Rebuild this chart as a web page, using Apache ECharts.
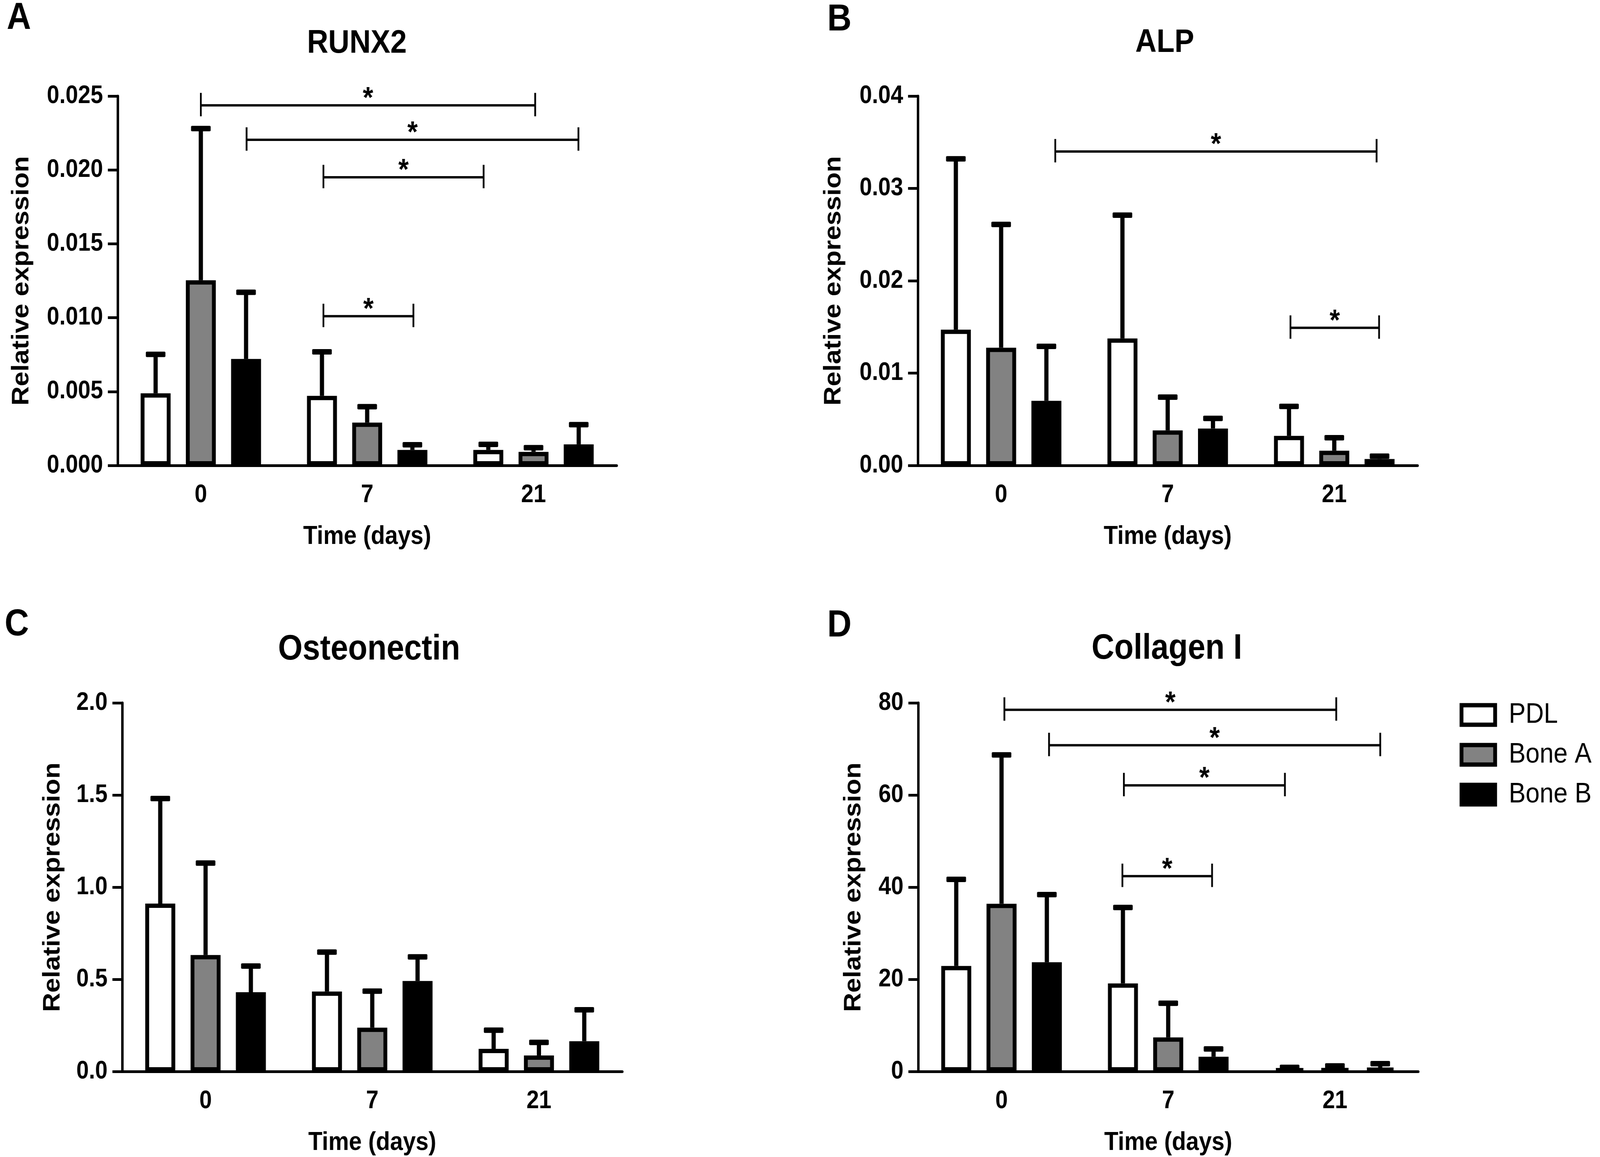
<!DOCTYPE html>
<html lang="en">
<head>
    <meta charset="UTF-8"/>
    <title>Relative expression</title>
    <script src="https://cdn.jsdelivr.net/npm/echarts@6.0.0/dist/echarts.min.js"></script>
    <style>
        html, body { margin: 0; padding: 0; background: #fff; overflow: hidden; }
        #main { transform-origin: 0 0; }
    </style>
</head>
<body>
<!-- drawn on a 4569x2963 layout, squeezed to whatever the window really is -->
<div id="main" style="width: 4569px;height: 2963px;"></div>
<script type="text/javascript">
    // categories
    var days = ['0', '7', '21'];
    var groups = ['PDL', 'Bone A', 'Bone B'];
    var fills = ['#ffffff', '#828282', '#000000'];

    // means and SD, one row per group (PDL, Bone A, Bone B), one value per day
    var runx2Mean = [[0.00488, 0.00471, 0.00105], [0.01253, 0.0029, 0.00092], [0.00721, 0.00105, 0.00143]];
    var runx2Sd   = [[0.00264, 0.00298, 0.00038], [0.01027, 0.00108, 0.00028], [0.00451, 0.00035, 0.00133]];
    var alpMean   = [[0.0147, 0.01375, 0.0032], [0.01275, 0.0038, 0.0016], [0.007, 0.004, 0.0007]];
    var alpSd     = [[0.0185, 0.01335, 0.0032], [0.01335, 0.0036, 0.0014], [0.0059, 0.0011, 0.0003]];
    var osteoMean = [[0.911, 0.434, 0.123], [0.632, 0.238, 0.087], [0.430, 0.491, 0.164]];
    var osteoSd   = [[0.570, 0.214, 0.101], [0.499, 0.198, 0.071], [0.142, 0.131, 0.171]];
    var colMean   = [[22.9, 19.1, 0.6], [36.4, 7.4, 0.65], [23.7, 3.2, 0.8]];
    var colSd     = [[18.8, 16.5, 0.3], [32.3, 7.4, 0.55], [14.7, 1.7, 0.9]];

    // significance brackets: [from, to, height] (from/to in category units, 0..3)
    var runx2Sig = [[0.50, 2.51, 0.02437], [0.775, 2.77, 0.02204], [1.237, 2.2, 0.0195], [1.237, 1.778, 0.0101]];
    var alpSig   = [[0.825, 2.754, 0.034], [2.237, 2.769, 0.0149]];
    var osteoSig = [];
    var colSig   = [[0.517, 2.508, 78.5], [0.785, 2.772, 70.8], [1.234, 2.2, 62.1], [1.225, 1.763, 42.4]];

    // y axis scales
    var yMax = [0.025, 0.04, 2.0, 80];
    var yStep = [0.005, 0.01, 0.5, 20];
    var yDecimals = [3, 2, 1, 0];

    var titles = ['RUNX2', 'ALP', 'Osteonectin', 'Collagen I'];
    var letters = ['A', 'B', 'C', 'D'];

    var panels = [
        {mean: runx2Mean, sd: runx2Sd, sig: runx2Sig, grid: {left: 336, top: 246, width: 1425, height: 946}, yGap: 240, title: [1019, 112], tSize: 84, letter: [54, 48]},
        {mean: alpMean, sd: alpSd, sig: alpSig, grid: {left: 2621, top: 246, width: 1427, height: 946}, yGap: 206, title: [3326, 110], tSize: 84, letter: [2397, 52]},
        {mean: osteoMean, sd: osteoSd, sig: osteoSig, grid: {left: 349, top: 1800, width: 1428, height: 944}, yGap: 164, title: [1054, 1664], tSize: 90, letter: [48, 1601]},
        {mean: colMean, sd: colSd, sig: colSig, grid: {left: 2622, top: 1800, width: 1428, height: 944}, yGap: 150, title: [3332, 1662], tSize: 90, letter: [2397, 1604]}
    ];

    var FONT = 'Liberation Sans';
    var BAR_W = 0.18;     // bar width as share of the category band
    var BAR_GAP = 0.51;   // gap between bars as share of bar width
    var step = BAR_W * (1 + BAR_GAP);

    // fit the fixed layout into the real window
    var box = document.getElementById('main');
    var sx = window.innerWidth / 4569, sy = window.innerHeight / 2963;
    if (Math.abs(sx - 1) > 0.001 || Math.abs(sy - 1) > 0.001) {
        box.style.transform = 'scale(' + sx + ',' + sy + ')';
    }

    var grids = [], xAxes = [], xValAxes = [], yAxes = [], series = [], graphics = [];

    panels.forEach(function (p, k) {
        grids.push(p.grid);
        xAxes.push({
            type: 'category', gridIndex: k, data: days,
            name: 'Time (days)', nameLocation: 'middle', nameGap: 150,
            nameTextStyle: {fontFamily: FONT, fontWeight: 'bold', fontSize: 66, color: '#000'},
            axisLine: {lineStyle: {color: '#000', width: 7}},
            axisTick: {alignWithLabel: true, length: 28, lineStyle: {color: '#000', width: 7}},
            axisLabel: {fontFamily: FONT, fontWeight: 'bold', fontSize: 64, color: '#000', margin: 44}
        });
        xValAxes.push({type: 'value', gridIndex: k, min: 0, max: 3, show: false});
        yAxes.push({
            type: 'value', gridIndex: k, min: 0, max: yMax[k], interval: yStep[k],
            name: 'Relative expression', nameLocation: 'middle', nameGap: p.yGap, nameRotate: 90,
            nameTextStyle: {fontFamily: FONT, fontWeight: 'bold', fontSize: 68, color: '#000'},
            splitLine: {show: false},
            axisLine: {show: true, lineStyle: {color: '#000', width: 7}},
            axisTick: {show: true, length: 28, lineStyle: {color: '#000', width: 7}},
            axisLabel: {
                fontFamily: FONT, fontWeight: 'bold', fontSize: 64, color: '#000', margin: 42,
                formatter: (function (d) { return function (v) { return v.toFixed(d); }; })(yDecimals[k])
            }
        });

        groups.forEach(function (g, s) {
            series.push({
                name: g, type: 'bar', xAxisIndex: k, yAxisIndex: k,
                data: p.mean[s],
                barWidth: (BAR_W * 100) + '%', barGap: (BAR_GAP * 100) + '%',
                itemStyle: {color: fills[s], borderColor: '#000', borderWidth: 11},
                emphasis: {disabled: true}, z: 2
            });
            // error bars (mean + SD)
            var eb = p.mean[s].map(function (m, i) {
                return [i + 0.5 + (s - 1) * step, m, p.sd[s][i]];
            });
            series.push({
                type: 'custom', xAxisIndex: 4 + k, yAxisIndex: k, data: eb,
                encode: {x: 0, y: 1}, z: 3, silent: true,
                renderItem: function (params, api) {
                    var x = api.value(0), m = api.value(1), sd = api.value(2);
                    var p0 = api.coord([x, m]), p1 = api.coord([x, m + sd]);
                    return {
                        type: 'group', children: [
                            {type: 'line', shape: {x1: p0[0], y1: p0[1], x2: p1[0], y2: p1[1]}, style: {stroke: '#000', lineWidth: 12}},
                            {type: 'rect', shape: {x: p1[0] - 28, y: p1[1] - 7, width: 56, height: 14, r: 3}, style: {fill: '#000'}}
                        ]
                    };
                }
            });
        });

        if (p.sig.length) {
            series.push({
                type: 'custom', xAxisIndex: 4 + k, yAxisIndex: k, data: p.sig,
                encode: {x: [0, 1], y: 2}, z: 4, silent: true,
                renderItem: function (params, api) {
                    var a = api.coord([api.value(0), api.value(2)]);
                    var b = api.coord([api.value(1), api.value(2)]);
                    return {
                        type: 'group', children: [
                            {type: 'line', shape: {x1: a[0], y1: a[1], x2: b[0], y2: b[1]}, style: {stroke: '#000', lineWidth: 6}},
                            {type: 'line', shape: {x1: a[0], y1: a[1] - 32, x2: a[0], y2: a[1] + 28}, style: {stroke: '#000', lineWidth: 5}},
                            {type: 'line', shape: {x1: b[0], y1: b[1] - 32, x2: b[0], y2: b[1] + 28}, style: {stroke: '#000', lineWidth: 5}},
                            {type: 'text', x: (a[0] + b[0]) / 2, y: a[1] - 16,
                             style: {text: '*', fontFamily: FONT, fontWeight: 'bold', fontSize: 76, fill: '#000', align: 'center', verticalAlign: 'middle'}}
                        ]
                    };
                }
            });
        }

        graphics.push({
            type: 'text', x: p.title[0], y: p.title[1],
            style: {text: titles[k], fontFamily: FONT, fontWeight: 'bold', fontSize: p.tSize, fill: '#000', align: 'center', verticalAlign: 'middle'}
        });
        graphics.push({
            type: 'text', x: p.letter[0], y: p.letter[1],
            style: {text: letters[k], fontFamily: FONT, fontWeight: 'bold', fontSize: 96, fill: '#000', align: 'center', verticalAlign: 'middle'}
        });
    });

    var myChart = echarts.init(box);
    myChart.setOption({
        backgroundColor: '#fff',
        animation: false,
        grid: grids,
        xAxis: xAxes.concat(xValAxes),
        yAxis: yAxes,
        legend: {
            orient: 'vertical', left: 4163, top: 1790,
            itemWidth: 96, itemHeight: 50, itemGap: 30,
            icon: 'rect', selectedMode: false,
            itemStyle: {borderColor: '#000', borderWidth: 11},
            textStyle: {fontFamily: FONT, fontSize: 72, color: '#000', padding: [0, 0, 0, 34], lineHeight: 72},
            data: groups
        },
        graphic: graphics,
        series: series
    });
</script>

</body>
</html>
